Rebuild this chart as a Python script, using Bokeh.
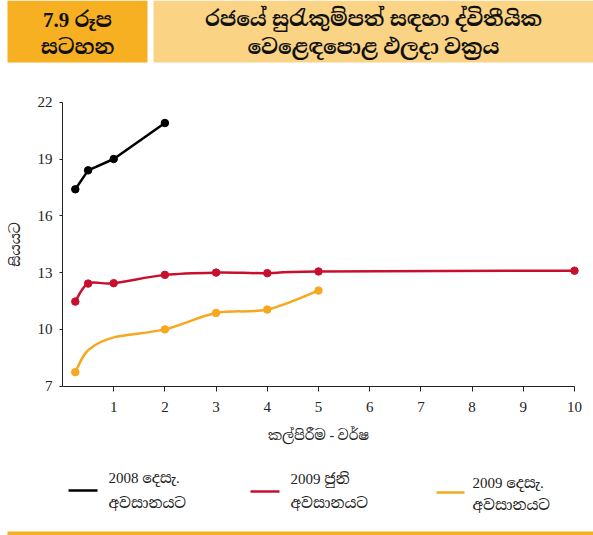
from bokeh.plotting import figure
from bokeh.models import Range1d, FixedTicker, LinearAxis
from bokeh.core.properties import value
from bokeh.embed import file_html
from bokeh.resources import INLINE

# ---------------- data ----------------
black_x = [0.25, 0.5, 1, 2]
black_y = [17.4, 18.4, 19.0, 20.9]

red_x = [0.25, 0.5, 1, 2, 3, 4, 5, 10]
red_y = [11.47, 12.42, 12.44, 12.88, 13.0, 12.97, 13.06, 13.1]

yellow_x = [0.25, 0.5, 1, 2, 3, 4, 5]
yellow_y = [7.74, 8.9, 9.58, 10.0, 10.87, 11.05, 12.05]
yellow_marked = [True, False, False, True, True, True, True]

series_names = ["2008 දෙසැ.\nඅවසානයට", "2009 ජුනි\nඅවසානයට", "2009 දෙසැ.\nඅවසානයට"]
x_ticks = [1, 2, 3, 4, 5, 6, 7, 8, 9, 10]
y_ticks = [7, 10, 13, 16, 19, 22]

title_left = ["7.9 රූප", "සටහන"]
title_right = ["රජයේ සුරැකුම්පත් සඳහා ද්විතීයික", "වෙළෙඳපොළ ඵලදා වක්‍රය"]
x_label = "කල්පිරීම - වර්ෂ"
y_label = "සියයට"

BLACK = "#000000"
RED = "#C8102E"
YELLOW = "#F6A81E"
ORANGE = "#F6B021"
LIGHT = "#FAD384"
TXT = "#222222"
SERIF = "Liberation Serif, Noto Serif Sinhala, Noto Sans Sinhala, serif"
W, H = 593, 535

# plot area in pixels (left, right, top, bottom) and data extents
FL, FR, FT, FB = 62.0, 574.0, 101.7, 385.7
X0, X1, Y0, Y1 = 0.0, 10.0, 7.0, 22.0
kx = (FR - FL) / (X1 - X0)
ky = (FB - FT) / (Y1 - Y0)
x_range = Range1d(X0 - FL / kx, X1 + (W - FR) / kx)
y_range = Range1d(Y0 - (H - FB) / ky, Y1 + FT / ky)


def smooth(xs, ys):
    n = len(xs)
    out = dict(x0=[], y0=[], x1=[], y1=[], cx0=[], cy0=[], cx1=[], cy1=[])
    for i in range(n - 1):
        p0 = max(i - 1, 0)
        p3 = min(i + 2, n - 1)
        out["x0"].append(xs[i]); out["y0"].append(ys[i])
        out["x1"].append(xs[i + 1]); out["y1"].append(ys[i + 1])
        out["cx0"].append(xs[i] + (xs[i + 1] - xs[p0]) / 6)
        out["cy0"].append(ys[i] + (ys[i + 1] - ys[p0]) / 6)
        out["cx1"].append(xs[i + 1] - (xs[p3] - xs[i]) / 6)
        out["cy1"].append(ys[i + 1] - (ys[p3] - ys[i]) / 6)
    return out


p = figure(width=W, height=H, x_range=x_range, y_range=y_range,
           x_axis_location=None, y_axis_location=None, toolbar_location=None,
           output_backend="svg", min_border=0, outline_line_color=None)
p.grid.visible = False
p.extra_x_ranges = {"px": Range1d(0, W)}
p.extra_y_ranges = {"px": Range1d(H, 0)}

# ---------------- axes ----------------
xaxis = LinearAxis(fixed_location=Y0, bounds=(X0, X1), ticker=FixedTicker(ticks=x_ticks))
yaxis = LinearAxis(fixed_location=X0, bounds=(Y0, Y1), ticker=FixedTicker(ticks=y_ticks))
for ax in (xaxis, yaxis):
    ax.axis_line_color = TXT
    ax.major_tick_line_color = TXT
    ax.minor_tick_line_color = None
    ax.major_label_text_font = SERIF
    ax.major_label_text_font_size = "15px"
    ax.major_label_text_color = TXT
    ax.axis_label_text_font = SERIF
    ax.axis_label_text_font_size = "14px"
    ax.axis_label_text_font_style = "normal"
    ax.axis_label_text_color = TXT
xaxis.major_tick_out = 5
xaxis.major_tick_in = 0
xaxis.major_label_standoff = 11
xaxis.axis_label = x_label
xaxis.axis_label_standoff = 12
yaxis.major_tick_out = 3
yaxis.major_tick_in = 0
yaxis.major_label_standoff = 7
yaxis.axis_label = y_label
yaxis.axis_label_standoff = 12
p.add_layout(xaxis, "below")
p.add_layout(yaxis, "left")

# ---------------- series ----------------
p.line(black_x, black_y, line_color=BLACK, line_width=2.5)
p.scatter(black_x, black_y, size=7.5, fill_color=BLACK, line_color=BLACK)

p.bezier(line_color=RED, line_width=2.5, **smooth(red_x, red_y))
p.scatter(red_x, red_y, size=7.5, fill_color=RED, line_color=RED)

p.bezier(line_color=YELLOW, line_width=2.5, **smooth(yellow_x, yellow_y))
ym_x = [x for x, m in zip(yellow_x, yellow_marked) if m]
ym_y = [y for y, m in zip(yellow_y, yellow_marked) if m]
p.scatter(ym_x, ym_y, size=7.5, fill_color=YELLOW, line_color=YELLOW)

# ---------------- header (pixel coordinates) ----------------
PX = dict(x_range_name="px", y_range_name="px")
p.quad(left=[7], right=[147], top=[0], bottom=[62], fill_color=ORANGE, line_color=None, **PX)
p.quad(left=[153], right=[593], top=[0], bottom=[62], fill_color=LIGHT, line_color=None, **PX)
p.text(x=[77, 77], y=[19, 46], text=title_left, text_align="center", text_baseline="middle",
       text_font=value(SERIF), text_font_style="bold", text_font_size="21px",
       text_color="#111111", **PX)
p.text(x=[373, 373], y=[18, 46], text=title_right, text_align="center", text_baseline="middle",
       text_font=value(SERIF), text_font_style="bold", text_font_size="21px",
       text_color="#111111", **PX)

# ---------------- legend (pixel coordinates) ----------------
colors = [BLACK, RED, YELLOW]
line_x0 = [68, 250, 436]
line_x1 = [97, 279, 464]
line_y = [490, 491, 492]
text_x = [108, 290, 472]
text_y1 = [477, 478, 482]
text_y2 = [502, 502, 504]
p.segment(x0=line_x0, x1=line_x1, y0=line_y, y1=line_y, line_color=colors, line_width=2.5, **PX)
p.text(x=text_x, y=text_y1, text=[s.split("\n")[0] for s in series_names], text_align="left",
       text_baseline="middle", text_font=value(SERIF), text_font_size="15px", text_color=TXT, **PX)
p.text(x=text_x, y=text_y2, text=[s.split("\n")[1] for s in series_names], text_align="left",
       text_baseline="middle", text_font=value(SERIF), text_font_size="15px", text_color=TXT, **PX)
p.segment(x0=[7], x1=[593], y0=[533], y1=[533], line_color=ORANGE, line_width=4, **PX)

open("out.html", "w").write(file_html(p, INLINE))
